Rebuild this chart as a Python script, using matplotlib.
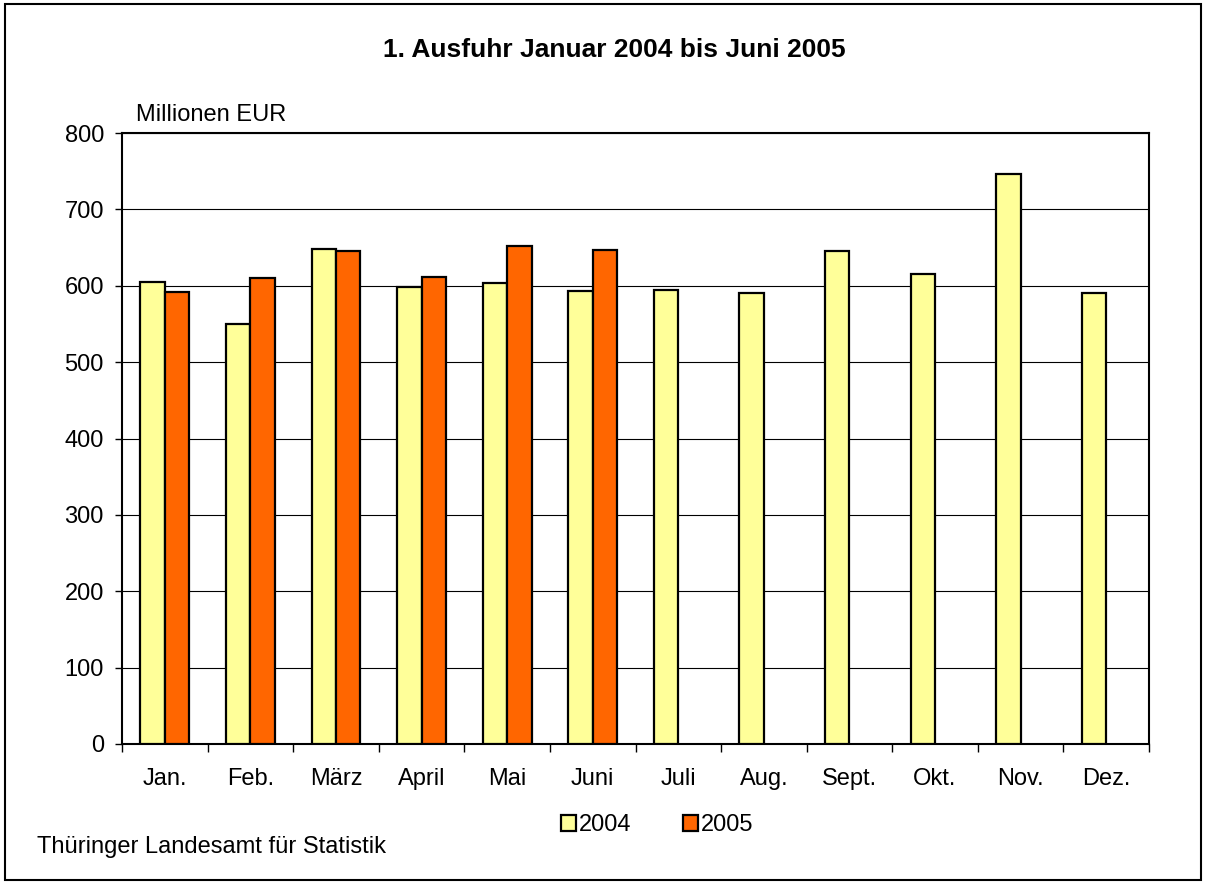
import matplotlib
matplotlib.use("Agg")
import matplotlib.pyplot as plt
from matplotlib.patches import Rectangle
import numpy as np

plt.rcParams['font.family'] = ['Liberation Sans', 'DejaVu Sans']

months = ["Jan.", "Feb.", "März", "April", "Mai", "Juni", "Juli", "Aug.", "Sept.", "Okt.", "Nov.", "Dez."]
values_2004 = [605, 550, 648, 598, 604, 593, 595, 590, 645, 616, 746, 590]
values_2005 = [592, 610, 645, 611, 652, 647]
yticks = [0, 100, 200, 300, 400, 500, 600, 700, 800]

W, H = 1205, 884
fig = plt.figure(figsize=(W / 100, H / 100), dpi=100)
fig.patches.append(Rectangle((5 / W, 4 / H), 1196 / W, 876 / H, transform=fig.transFigure,
                             fill=False, edgecolor='black', linewidth=1.5))

ax = fig.add_axes([122 / W, 1 - 744 / H, (1149 - 122) / W, (744 - 133) / H])
x = np.arange(len(months))
bw = 0.285
ax.bar(x[:len(values_2004)] - bw / 2, values_2004, bw, color='#FFFF99', edgecolor='black',
       linewidth=1.6, label='2004', zorder=3)
ax.bar(np.arange(len(values_2005)) + bw / 2, values_2005, bw, color='#FF6600', edgecolor='black',
       linewidth=1.6, label='2005', zorder=3)

ax.set_xlim(-0.5, len(months) - 0.5)
ax.set_ylim(0, 800)
ax.set_yticks(yticks)
ax.set_yticklabels([str(v) for v in yticks], fontsize=17)
ax.set_xticks(x)
ax.set_xticklabels(months, fontsize=17)
ax.set_xticks(np.arange(len(months) + 1) - 0.5, minor=True)
ax.tick_params(axis='x', which='major', length=0, pad=17)
ax.tick_params(axis='x', which='minor', length=6, width=1, direction='out')
ax.tick_params(axis='y', length=5, width=1, direction='out', pad=8)
ax.yaxis.grid(True, color='black', linewidth=0.8, zorder=0)
ax.set_axisbelow(True)
for s in ax.spines.values():
    s.set_linewidth(1.5)

fig.text(614 / W, 1 - 50 / H, "1. Ausfuhr Januar 2004 bis Juni 2005", ha='center', va='center',
         fontsize=19, fontweight='bold')
fig.text(136 / W, 1 - 115 / H, "Millionen EUR", ha='left', va='center', fontsize=17)
fig.text(37 / W, 1 - 847 / H, "Thüringer Landesamt für Statistik", ha='left', va='center', fontsize=17)

leg = fig.legend(loc='center', bbox_to_anchor=(657 / W, 1 - 825 / H), ncol=2, frameon=False,
                 fontsize=17, handlelength=0.65, handleheight=0.65, handletextpad=0.1,
                 columnspacing=2.2, borderpad=0)

fig.savefig("out.png", dpi=100)
